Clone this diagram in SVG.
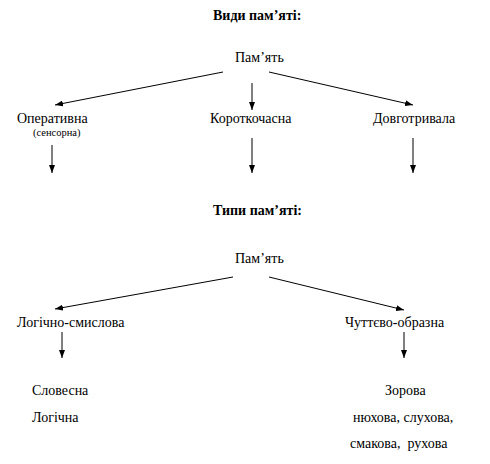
<svg xmlns="http://www.w3.org/2000/svg" width="490" height="464" viewBox="0 0 490 464">
<defs>
<marker id="ah" viewBox="0 0 8 6" refX="8" refY="3" markerWidth="8" markerHeight="6" markerUnits="userSpaceOnUse" orient="auto">
<path d="M0,0 L8,3 L0,6 Z" fill="#000"/>
</marker>
</defs>
<style>
text{font-family:"Liberation Serif","Times New Roman",serif;font-size:14px;fill:#000}
.t{font-weight:bold;font-size:14px}
.s{font-size:10.5px}
line{stroke:#000;stroke-width:1;marker-end:url(#ah)}
</style>
<rect width="490" height="464" fill="#fff"/>
<g id="title1"><text class="t" x="213" y="20">Види пам’яті:</text></g>
<g id="root1"><text x="235" y="62">Пам’ять</text></g>
<g id="operatyvna"><text x="17" y="123">Оперативна</text><text class="s" x="33" y="136">(сенсорна)</text></g>
<g id="korotkochasna"><text x="210" y="123">Короткочасна</text></g>
<g id="dovhotryvala"><text x="373" y="123">Довготривала</text></g>
<g id="title2"><text class="t" x="213" y="215">Типи пам’яті:</text></g>
<g id="root2"><text x="235" y="263">Пам’ять</text></g>
<g id="lohichno"><text x="17" y="327">Логічно-смислова</text></g>
<g id="chuttievo"><text x="345" y="327">Чуттєво-образна</text></g>
<g id="lohichno-items"><text x="32" y="395">Словесна</text><text x="32" y="422">Логічна</text></g>
<g id="chuttievo-items"><text x="385" y="395">Зорова</text><text x="353" y="422">нюхова, слухова,</text><text x="350" y="448" xml:space="preserve">смакова,  рухова</text></g>
<g id="connectors">
<line x1="223" y1="72" x2="55" y2="105"/>
<line x1="252" y1="83" x2="252" y2="110"/>
<line x1="269" y1="72" x2="413" y2="105"/>
<line x1="52" y1="145" x2="52" y2="173"/>
<line x1="252" y1="138" x2="252" y2="173"/>
<line x1="413" y1="138" x2="413" y2="173"/>
<line x1="233" y1="277" x2="55" y2="309"/>
<line x1="269" y1="277" x2="404" y2="310"/>
<line x1="62" y1="332" x2="62" y2="358"/>
<line x1="404" y1="332" x2="404" y2="358"/>
</g>
</svg>
